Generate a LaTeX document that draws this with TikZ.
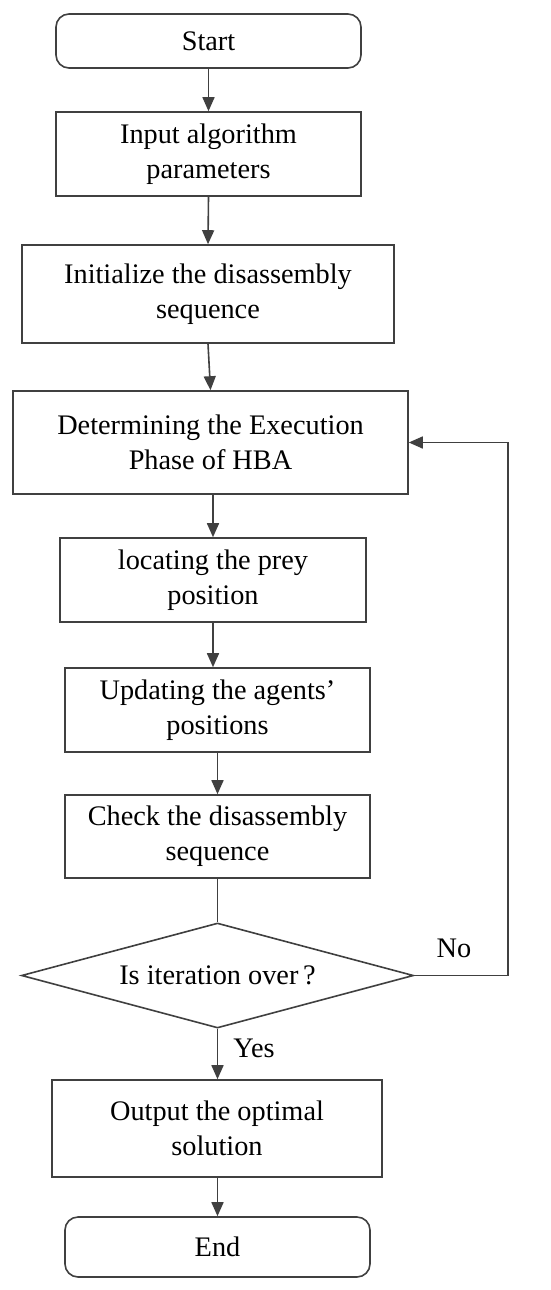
\documentclass[tikz,border=0pt]{standalone}
\usepackage{fontspec}
\setmainfont{Liberation Serif}
\usetikzlibrary{shapes.geometric,arrows.meta}
\begin{document}
\begin{tikzpicture}[x=1pt,y=-1pt,
  every node/.style={font=\fontsize{28.3}{35}\selectfont, text=black},
  procbox/.style={draw=black!75, line width=1.6pt, rectangle, align=center, inner sep=0pt},
  termbox/.style={procbox, rounded corners=13pt},
  decbox/.style={draw=black!75, line width=1.6pt, diamond, inner sep=0pt},
  conn/.style={draw=black!75, line width=1.6pt},
  arr/.style={conn, -{Triangle[width=12pt,length=14pt]}},
  lbl/.style={inner sep=0pt}
]
\useasboundingbox (0,0) rectangle (550,1290);
\fill[white] (0,0) rectangle (550,1290);

\node[termbox, minimum width=305pt, minimum height=54pt] (start) at (208.5,41) {Start};
\node[procbox, minimum width=305pt, minimum height=84pt] (input) at (208.5,154) {Input algorithm\\parameters};
\node[procbox, minimum width=372pt, minimum height=98pt] (init) at (208,294) {Initialize the disassembly\\sequence};
\node[procbox, minimum width=395pt, minimum height=103pt] (det) at (210.5,442.5) {Determining the Execution\\Phase of HBA};
\node[procbox, minimum width=306pt, minimum height=84pt] (loc) at (213,580) {locating the prey\\position};
\node[procbox, minimum width=305pt, minimum height=84pt] (upd) at (217.5,710) {Updating the agents’\\positions};
\node[procbox, minimum width=305pt, minimum height=83pt] (chk) at (217.5,836.5) {Check the disassembly\\sequence};
\node[decbox, minimum width=392pt, minimum height=105pt, label={center:Is iteration over\,?}] (dec) at (217.5,975.5) {};
\node[procbox, minimum width=330pt, minimum height=97pt] (out) at (217,1128.5) {Output the optimal\\solution};
\node[termbox, minimum width=305pt, minimum height=60pt] (end) at (217.5,1247) {End};

\coordinate (loopc) at (508,975.5);

\draw[arr] (start.south) -- (input.north);
\draw[arr] (input.south) -- (init.north);
\draw[arr] (init.south) -- (det.north);
\draw[arr] (det.south -| loc.north) -- (loc.north);
\draw[arr] (loc.south) -- (loc.south |- upd.north);
\draw[arr] (upd.south) -- (chk.north);
\draw[conn] (chk.south) -- (dec.north);
\draw[arr] (dec.south) -- (dec.south |- out.north);
\draw[arr] (dec.south |- out.south) -- (dec.south |- end.north);
\draw[arr] (dec.east) -- (loopc) |- (det.east);

\node[lbl] (no) at (454,948) {No};
\node[lbl] (yes) at (254,1048) {Yes};
\end{tikzpicture}
\end{document}
